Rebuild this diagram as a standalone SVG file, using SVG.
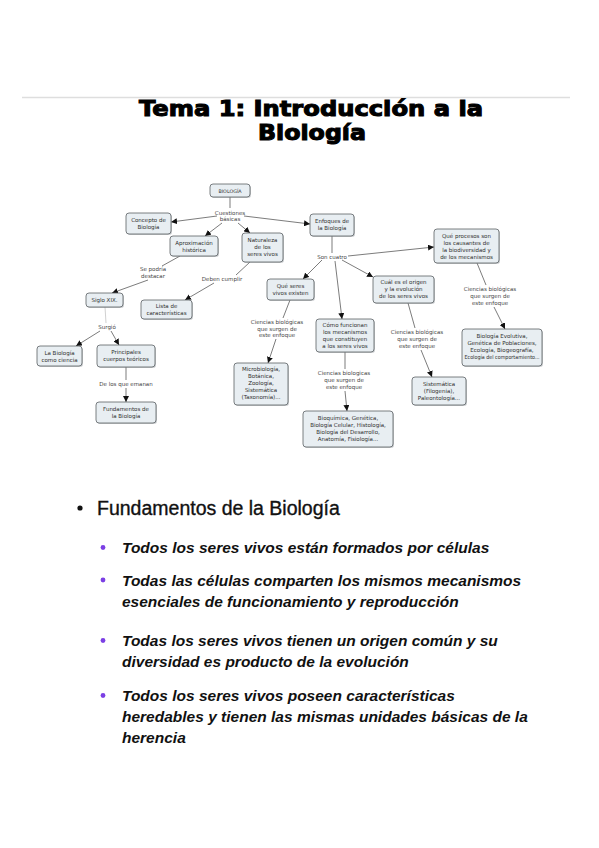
<svg xmlns="http://www.w3.org/2000/svg" width="599" height="848" viewBox="0 0 599 848">
<style>
.n rect.b{fill:#e8eef2;stroke:#5a5f63;stroke-width:0.8}
.n rect.s{fill:#9aa0a4;opacity:0.5}
.t{font-family:"DejaVu Sans",Verdana,sans-serif;font-size:5.5px;fill:#2e2e2e;text-anchor:middle}
.lbl{font-family:"DejaVu Sans",Verdana,sans-serif;font-size:5.5px;fill:#444;text-anchor:middle}
.c line{stroke:#444;stroke-width:0.7;fill:none}
.c line.a{marker-end:url(#ah)}
.title{font-family:"DejaVu Sans","Liberation Sans",sans-serif;font-weight:bold;font-size:22px;fill:#000;stroke:#000;stroke-width:1.1;text-anchor:middle}
.h{font-family:"Liberation Sans",Arial,sans-serif;font-size:19.5px;fill:#111;stroke:#111;stroke-width:0.35}
.it{font-family:"Liberation Sans",Arial,sans-serif;font-size:15.5px;font-weight:bold;font-style:italic;fill:#111}
.pb{fill:#7b3fe4}
</style>
<defs>
<marker id="ah" viewBox="0 0 10 10" refX="10" refY="5" markerWidth="6" markerHeight="6" markerUnits="userSpaceOnUse" orient="auto">
<path d="M0,0 L10,5 L0,10 z" fill="#111"/>
</marker>
</defs>
<rect width="599" height="848" fill="#fff"/>
<line x1="22" y1="97.5" x2="570" y2="97.5" stroke="#dedede" stroke-width="1.5"/>
<text class="title" x="311" y="115.5" textLength="344" lengthAdjust="spacingAndGlyphs">Tema 1: Introducción a la</text>
<text class="title" x="312" y="140" textLength="108" lengthAdjust="spacingAndGlyphs">Biología</text>

<g id="connectors" class="c">
<line x1="230" y1="197" x2="230" y2="208"/>
<line class="a" x1="217" y1="216" x2="171" y2="222"/>
<line class="a" x1="244" y1="216" x2="310" y2="224"/>
<line class="a" x1="222" y1="223" x2="205" y2="236"/>
<line class="a" x1="238" y1="223" x2="250" y2="233"/>
<line x1="332" y1="236" x2="332" y2="253"/>
<line class="a" x1="348" y1="256" x2="434" y2="247"/>
<line class="a" x1="322" y1="260" x2="303" y2="279"/>
<line class="a" x1="335" y1="261" x2="342" y2="319"/>
<line class="a" x1="342" y1="260" x2="373" y2="277"/>
<line x1="180" y1="256" x2="162" y2="266"/>
<line class="a" x1="148" y1="280" x2="112" y2="293"/>
<line x1="250" y1="262" x2="236" y2="275"/>
<line class="a" x1="214" y1="283" x2="185" y2="300"/>
<line x1="105" y1="307" x2="106" y2="323" style="stroke:#bbb"/>
<line class="a" x1="100" y1="331" x2="76" y2="346"/>
<line class="a" x1="111" y1="331" x2="119" y2="345"/>
<line x1="126" y1="367" x2="126" y2="380"/>
<line class="a" x1="126" y1="388" x2="126" y2="402"/>
<line x1="290" y1="300" x2="283" y2="318"/>
<line class="a" x1="276" y1="339" x2="268" y2="363"/>
<line x1="345" y1="352" x2="345" y2="369"/>
<line class="a" x1="345" y1="391" x2="347" y2="411"/>
<line x1="408" y1="303" x2="415" y2="328"/>
<line class="a" x1="421" y1="350" x2="432" y2="377"/>
<line x1="477" y1="263" x2="486" y2="285"/>
<line class="a" x1="494" y1="307" x2="505" y2="329"/>
</g>

<g id="link-labels">
<text class="lbl" x="230" y="214.5">Cuestiones</text>
<text class="lbl" x="230" y="221">básicas</text>
<text class="lbl" x="332" y="259">Son cuatro</text>
<text class="lbl" x="153" y="271">Se podría</text>
<text class="lbl" x="153" y="278">destacar</text>
<text class="lbl" x="222" y="281">Deben cumplir</text>
<text class="lbl" x="107" y="329">Surgió</text>
<text class="lbl" x="126" y="386">De los que emanan</text>
<text class="lbl" x="277" y="324">Ciencias biológicas</text>
<text class="lbl" x="277" y="330.5">que surgen de</text>
<text class="lbl" x="277" y="337">este enfoque</text>
<text class="lbl" x="344" y="375">Ciencias biologicas</text>
<text class="lbl" x="344" y="382">que surgen de</text>
<text class="lbl" x="344" y="389">este enfoque</text>
<text class="lbl" x="417" y="334">Ciencias biológicas</text>
<text class="lbl" x="417" y="341">que surgen de</text>
<text class="lbl" x="417" y="348">este enfoque</text>
<text class="lbl" x="490" y="291">Ciencias biológicas</text>
<text class="lbl" x="490" y="298">que surgen de</text>
<text class="lbl" x="490" y="305">este enfoque</text>
</g>

<g id="n-biologia" class="n"><rect class="s" x="211" y="185" width="40" height="13" rx="3"/><rect class="b" x="210" y="184" width="40" height="13" rx="3"/><text class="t" x="230" y="192.8" style="font-size:4.8px">BIOLOGÍA</text></g>
<g id="n-concepto" class="n"><rect class="s" x="127" y="214" width="45" height="21" rx="3"/><rect class="b" x="126" y="213" width="45" height="21" rx="3"/><text class="t" x="148.5" y="221.5">Concepto de</text><text class="t" x="148.5" y="228.5">Biología</text></g>
<g id="n-enfoques" class="n"><rect class="s" x="311" y="215" width="44" height="22" rx="3"/><rect class="b" x="310" y="214" width="44" height="22" rx="3"/><text class="t" x="332" y="222.5">Enfoques de</text><text class="t" x="332" y="229.5">la Biología</text></g>
<g id="n-aproximacion" class="n"><rect class="s" x="171" y="237" width="48" height="20" rx="3"/><rect class="b" x="170" y="236" width="48" height="20" rx="3"/><text class="t" x="194" y="244.5">Aproximación</text><text class="t" x="194" y="251.5">histórica</text></g>
<g id="n-naturaleza" class="n"><rect class="s" x="243" y="234" width="41" height="29" rx="3"/><rect class="b" x="242" y="233" width="41" height="29" rx="3"/><text class="t" x="262.5" y="241.5">Naturaleza</text><text class="t" x="262.5" y="248.5">de los</text><text class="t" x="262.5" y="255.5">seres vivos</text></g>
<g id="n-procesos" class="n"><rect class="s" x="435" y="230" width="65" height="34" rx="3"/><rect class="b" x="434" y="229" width="65" height="34" rx="3"/><text class="t" x="466.5" y="237.5">Qué procesos son</text><text class="t" x="466.5" y="244.5">los causantes de</text><text class="t" x="466.5" y="251.5">la biodiversidad y</text><text class="t" x="466.5" y="258.5">de los mecanismos</text></g>
<g id="n-queseres" class="n"><rect class="s" x="268" y="280" width="47" height="21" rx="3"/><rect class="b" x="267" y="279" width="47" height="21" rx="3"/><text class="t" x="290.5" y="287.5">Qué seres</text><text class="t" x="290.5" y="294.5">vivos existen</text></g>
<g id="n-cual" class="n"><rect class="s" x="374" y="277" width="61" height="27" rx="3"/><rect class="b" x="373" y="276" width="61" height="27" rx="3"/><text class="t" x="403.5" y="284">Cuál es el origen</text><text class="t" x="403.5" y="291">y la evolución</text><text class="t" x="403.5" y="298">de los seres vivos</text></g>
<g id="n-siglo" class="n"><rect class="s" x="87" y="294" width="37" height="14" rx="3"/><rect class="b" x="86" y="293" width="37" height="14" rx="3"/><text class="t" x="104.5" y="302">Siglo XIX.</text></g>
<g id="n-lista" class="n"><rect class="s" x="142" y="301" width="51" height="19" rx="3"/><rect class="b" x="141" y="300" width="51" height="19" rx="3"/><text class="t" x="166.5" y="308">Lista de</text><text class="t" x="166.5" y="315">características</text></g>
<g id="n-como" class="n"><rect class="s" x="317" y="320" width="58" height="33" rx="3"/><rect class="b" x="316" y="319" width="58" height="33" rx="3"/><text class="t" x="345" y="327">Cómo funcionan</text><text class="t" x="345" y="334">los mecanismos</text><text class="t" x="345" y="341">que constituyen</text><text class="t" x="345" y="348">a los seres vivos</text></g>
<g id="n-evolutiva" class="n"><rect class="s" x="463" y="330" width="80" height="37" rx="3"/><rect class="b" x="462" y="329" width="80" height="37" rx="3"/><text class="t" x="502" y="337.5">Biología Evolutiva,</text><text class="t" x="502" y="344.5">Genética de Poblaciones,</text><text class="t" x="502" y="351.5">Ecología, Biogeografía,</text><text class="t" x="502" y="358.5" textLength="75" lengthAdjust="spacingAndGlyphs">Ecología del comportamiento...</text></g>
<g id="n-labiologia" class="n"><rect class="s" x="38" y="347" width="45" height="20" rx="3"/><rect class="b" x="37" y="346" width="45" height="20" rx="3"/><text class="t" x="59.5" y="354.5">La Biología</text><text class="t" x="59.5" y="361.5">como ciencia</text></g>
<g id="n-principales" class="n"><rect class="s" x="98" y="346" width="58" height="22" rx="3"/><rect class="b" x="97" y="345" width="58" height="22" rx="3"/><text class="t" x="126" y="353.5">Principales</text><text class="t" x="126" y="361">cuerpos teóricos</text></g>
<g id="n-micro" class="n"><rect class="s" x="235" y="364" width="54" height="42" rx="3"/><rect class="b" x="234" y="363" width="54" height="42" rx="3"/><text class="t" x="261" y="371">Microbiología,</text><text class="t" x="261" y="378">Botánica,</text><text class="t" x="261" y="385">Zoología,</text><text class="t" x="261" y="392">Sistemática</text><text class="t" x="261" y="399">(Taxonomía)...</text></g>
<g id="n-sistematica" class="n"><rect class="s" x="413" y="378" width="54" height="28" rx="3"/><rect class="b" x="412" y="377" width="54" height="28" rx="3"/><text class="t" x="439" y="386">Sistemática</text><text class="t" x="439" y="393">(Filogenia),</text><text class="t" x="439" y="400">Paleontología...</text></g>
<g id="n-fundamentos" class="n"><rect class="s" x="97" y="403" width="60" height="21" rx="3"/><rect class="b" x="96" y="402" width="60" height="21" rx="3"/><text class="t" x="126" y="410.5">Fundamentos de</text><text class="t" x="126" y="417.5">la Biología</text></g>
<g id="n-bioquimica" class="n"><rect class="s" x="304" y="412" width="90" height="36" rx="3"/><rect class="b" x="303" y="411" width="90" height="36" rx="3"/><text class="t" x="348" y="419.5">Bioquímica, Genética,</text><text class="t" x="348" y="426.5">Biología Celular, Histología,</text><text class="t" x="348" y="433.5">Biología del Desarrollo,</text><text class="t" x="348" y="440.5">Anatomía, Fisiología...</text></g>

<g id="bullets">
<circle cx="80" cy="508" r="2.6" fill="#111"/>
<text class="h" x="97" y="515">Fundamentos de la Biología</text>
<circle class="pb" cx="103" cy="547.5" r="2.4"/>
<text class="it" x="122" y="553">Todos los seres vivos están formados por células</text>
<circle class="pb" cx="103" cy="580" r="2.4"/>
<text class="it" x="122" y="585.5">Todas las células comparten los mismos mecanismos</text>
<text class="it" x="122" y="606.5">esenciales de funcionamiento y reproducción</text>
<circle class="pb" cx="103" cy="640.5" r="2.4"/>
<text class="it" x="122" y="646">Todas los seres vivos tienen un origen común y su</text>
<text class="it" x="122" y="667">diversidad es producto de la evolución</text>
<circle class="pb" cx="103" cy="695.5" r="2.4"/>
<text class="it" x="122" y="701">Todos los seres vivos poseen características</text>
<text class="it" x="122" y="722">heredables y tienen las mismas unidades básicas de la</text>
<text class="it" x="122" y="743">herencia</text>
</g>
</svg>
